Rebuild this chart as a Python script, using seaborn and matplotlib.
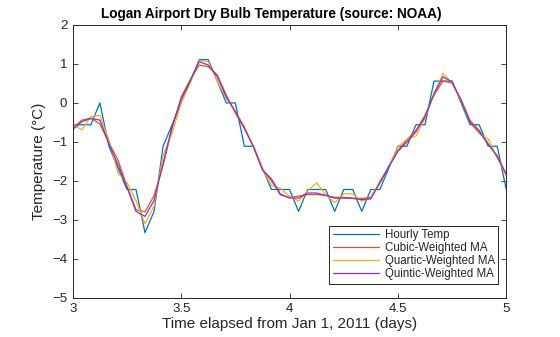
import numpy as np
import pandas as pd
import matplotlib
matplotlib.use("Agg")
import matplotlib.pyplot as plt
import seaborn as sns

# Hours from day 3 to day 5
hours = list(range(49))

hourly_temp = [-0.56, -0.56, -0.56, 0.00, -1.11, -1.67, -2.22, -2.22, -3.33, -2.78,
               -1.11, -0.56, 0.00, 0.56, 1.11, 1.11, 0.56, 0.00, 0.00, -1.11,
               -1.11, -1.67, -2.22, -2.22, -2.22, -2.78, -2.22, -2.22, -2.22, -2.78,
               -2.22, -2.22, -2.78, -2.22, -2.22, -1.67, -1.11, -1.11, -0.56, -0.56,
               0.56, 0.56, 0.56, 0.00, -0.56, -0.56, -1.11, -1.11, -2.22]

cubic_ma = [-0.65, -0.44, -0.39, -0.54, -1.02, -1.46, -2.14, -2.74, -2.79, -2.38,
            -1.60, -0.65, 0.15, 0.59, 0.97, 0.93, 0.72, 0.20, -0.26, -0.65,
            -1.12, -1.70, -2.00, -2.36, -2.42, -2.39, -2.35, -2.35, -2.37, -2.42,
            -2.42, -2.44, -2.45, -2.42, -2.05, -1.63, -1.22, -0.95, -0.70, -0.32,
            0.20, 0.57, 0.50, 0.08, -0.45, -0.70, -1.05, -1.35, -1.87]

quartic_ma = [-0.55, -0.69, -0.35, -0.32, -0.95, -1.80, -2.04, -2.51, -3.10, -2.65,
              -1.35, -0.78, 0.00, 0.50, 1.09, 1.06, 0.55, 0.12, -0.22, -0.60,
              -1.12, -1.68, -2.12, -2.19, -2.39, -2.52, -2.26, -2.05, -2.35, -2.56,
              -2.33, -2.33, -2.52, -2.44, -2.00, -1.63, -1.13, -0.93, -0.85, -0.40,
              0.24, 0.76, 0.50, 0.05, -0.50, -0.79, -0.92, -1.40, -1.85]

quintic_ma = [-0.68, -0.48, -0.40, -0.44, -1.05, -1.58, -2.16, -2.78, -2.91, -2.50,
              -1.55, -0.60, 0.10, 0.57, 1.06, 0.97, 0.68, 0.15, -0.22, -0.65,
              -1.12, -1.72, -1.95, -2.34, -2.44, -2.44, -2.31, -2.31, -2.37, -2.44,
              -2.44, -2.45, -2.48, -2.46, -2.05, -1.63, -1.24, -1.00, -0.74, -0.36,
              0.24, 0.67, 0.54, 0.07, -0.50, -0.74, -1.05, -1.38, -1.82]

series_names = ["Hourly Temp", "Cubic-Weighted MA", "Quartic-Weighted MA", "Quintic-Weighted MA"]
colors = ["#0072BD", "#E0561A", "#EDB120", "#8E2FC8"]

days = [3 + h / 24 for h in hours]
frames = []
for name, vals in zip(series_names, [hourly_temp, cubic_ma, quartic_ma, quintic_ma]):
    frames.append(pd.DataFrame({"days": days, "temp": vals, "series": name}))
df = pd.concat(frames, ignore_index=True)

sns.set_theme(style="white")
plt.rcParams["font.family"] = ["Liberation Sans", "DejaVu Sans"]

fig = plt.figure(figsize=(5.6, 3.37), dpi=100)
ax = fig.add_axes([0.130, 0.116, 0.774, 0.810])

sns.lineplot(data=df, x="days", y="temp", hue="series", hue_order=series_names,
             palette=dict(zip(series_names, colors)), estimator=None, sort=False,
             linewidth=0.9, ax=ax)

ax.set_xlim(3, 5)
ax.set_ylim(-5, 2)
ax.set_xticks([3, 3.5, 4, 4.5, 5])
ax.set_xticklabels(["3", "3.5", "4", "4.5", "5"])
ax.set_yticks(range(-5, 3))
ax.tick_params(direction="in", length=3.5, width=0.6, labelsize=9.5, colors="#262626",
               top=True, right=True, bottom=True, left=True, pad=4)
for s in ax.spines.values():
    s.set_visible(True)
    s.set_color("#262626")
    s.set_linewidth(0.7)

ax.set_title("Logan Airport Dry Bulb Temperature (source: NOAA)", fontsize=9.8,
             fontweight="bold", color="#000000", pad=5)
ax.title.set_x(0.458)
ax.set_xlabel("Time elapsed from Jan 1, 2011 (days)", fontsize=11, color="#262626", labelpad=1)
ax.set_ylabel("Temperature (°C)", fontsize=11, color="#262626", labelpad=4)

leg = ax.legend(loc="lower right", bbox_to_anchor=(0.995, 0.03), fontsize=8.3,
                frameon=True, fancybox=False, edgecolor="#262626", framealpha=1,
                handlelength=4.0, handletextpad=0.5, borderpad=0.3, labelspacing=0.1)
leg.get_frame().set_linewidth(0.7)

fig.savefig("out.png", dpi=100)
